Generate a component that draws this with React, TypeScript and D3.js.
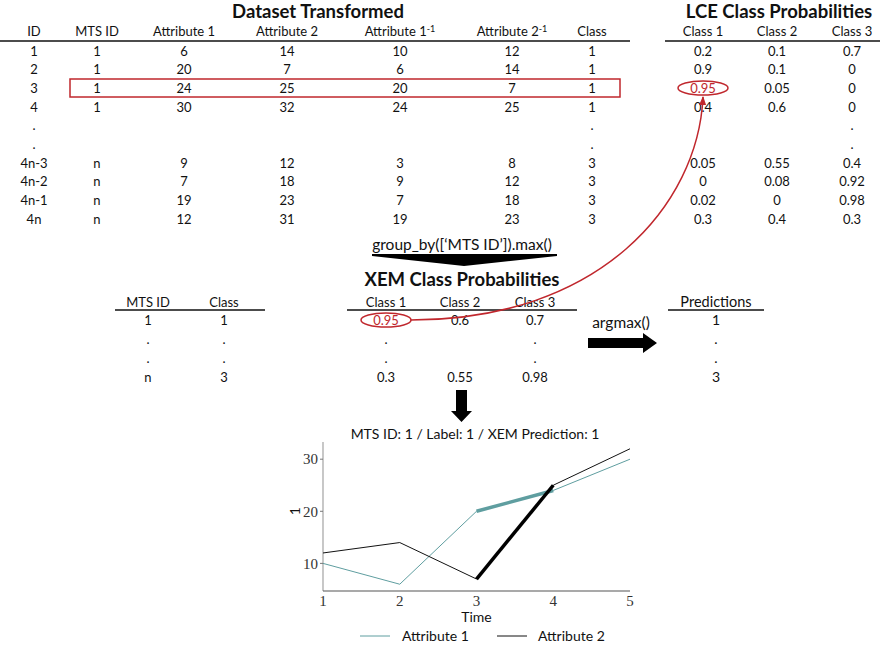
import React from "react";
import * as d3 from "d3";

// ---------- data ----------
const topHeaders = ["ID", "MTS ID", "Attribute 1", "Attribute 2", "Attribute 1", "Attribute 2", "Class"];
const topHeaderSup = ["", "", "", "", "-1", "-1", ""];
const ids = ["1", "2", "3", "4", ".", ".", "4n-3", "4n-2", "4n-1", "4n"];
const mtsIds = ["1", "1", "1", "1", "", "", "n", "n", "n", "n"];
const attribute1 = ["6", "20", "24", "30", "", "", "9", "7", "19", "12"];
const attribute2 = ["14", "7", "25", "32", "", "", "12", "18", "23", "31"];
const attribute1Inv = ["10", "6", "20", "24", "", "", "3", "9", "7", "19"];
const attribute2Inv = ["12", "14", "7", "25", "", "", "8", "12", "18", "23"];
const classes = ["1", "1", "1", "1", ".", ".", "3", "3", "3", "3"];

const lceHeaders = ["Class 1", "Class 2", "Class 3"];
const lceClass1 = ["0.2", "0.9", "0.95", "0.4", "", "", "0.05", "0", "0.02", "0.3"];
const lceClass2 = ["0.1", "0.1", "0.05", "0.6", "", "", "0.55", "0.08", "0", "0.4"];
const lceClass3 = ["0.7", "0", "0", "0", ".", ".", "0.4", "0.92", "0.98", "0.3"];

const gtHeaders = ["MTS ID", "Class"];
const gtMtsId = ["1", ".", ".", "n"];
const gtClass = ["1", ".", ".", "3"];

const xemHeaders = ["Class 1", "Class 2", "Class 3"];
const xemClass1 = ["0.95", ".", ".", "0.3"];
const xemClass2 = ["0.6", "", "", "0.55"];
const xemClass3 = ["0.7", ".", ".", "0.98"];

const predHeader = "Predictions";
const predictions = ["1", ".", ".", "3"];

const time = [1, 2, 3, 4, 5];
const seriesAttr1 = [10, 6, 20, 24, 30];
const seriesAttr2 = [12, 14, 7, 25, 32];
const highlightIdx = [2, 3];
const yTicks = [10, 20, 30];
const chartTitle = "MTS ID: 1 / Label: 1 / XEM Prediction: 1";
const legendLabels = ["Attribute 1", "Attribute 2"];

// ---------- style ----------
const FONT = "Lato, 'Noto Sans', sans-serif";
const SERIF = "'Liberation Serif', 'DejaVu Serif', serif";
const RED = "#c0272d";
const TEAL = "#5f9ea0";
const FS = 13;
const TITLE_FS = 18.5;

function Cell({ x, y, t, fill = "#111", fs = FS }: any) {
  return (
    <text x={x} y={y} dy="0.35em" textAnchor="middle" fontFamily={FONT} fontSize={fs} fill={fill}>
      {t}
    </text>
  );
}

export default function App() {
  const topCols = [34, 97, 184, 287, 400, 512, 592];
  const topRows = d3.scalePoint<number>().domain(d3.range(10)).range([51, 219]);
  const topCols2 = [attribute1, attribute2, attribute1Inv, attribute2Inv];
  const lceCols = [703, 777, 852];
  const lceData = [lceClass1, lceClass2, lceClass3];

  const midRows = d3.scalePoint<number>().domain(d3.range(4)).range([320, 377]);
  const gtCols = [148, 224];
  const xemCols = [386, 460, 535];
  const xemData = [xemClass1, xemClass2, xemClass3];

  const x = d3.scaleLinear().domain([1, 5]).range([323, 630]);
  const y = d3.scaleLinear().domain([4.7, 33.3]).range([591, 442]);
  const line = d3
    .line<number>()
    .x((_, i) => x(time[i]))
    .y((v) => y(v));
  const seg = (arr: number[]) =>
    d3
      .line<number>()
      .x((i) => x(time[i]))
      .y((i) => y(arr[i]))(highlightIdx) as string;

  return (
    <svg width={887} height={649} style={{ position: "absolute", left: 0, top: 0, background: "#fff" }}>
      <defs>
        <marker id="redArrow" viewBox="0 0 10 10" refX="9" refY="5" markerWidth="6" markerHeight="6" orient="auto">
          <path d="M0,1 L10,5 L0,9 z" fill={RED} />
        </marker>
      </defs>

      {/* ---- Dataset Transformed ---- */}
      <text x={318} y={12} dy="0.35em" textAnchor="middle" fontFamily={FONT} fontWeight={700} fontSize={TITLE_FS} fill="#111">
        Dataset Transformed
      </text>
      {topHeaders.map((h, i) => (
        <text key={i} x={topCols[i]} y={31.5} dy="0.35em" textAnchor="middle" fontFamily={FONT} fontSize={FS} fill="#111">
          {h}
          {topHeaderSup[i] && (
            <tspan fontSize={9} dy="-0.5em">
              {topHeaderSup[i]}
            </tspan>
          )}
        </text>
      ))}
      <line x1={0} x2={630} y1={41} y2={41} stroke="#111" strokeWidth={1.3} />
      {ids.map((v, r) => (
        <g key={r}>
          <Cell x={topCols[0]} y={topRows(r)} t={v} />
          <Cell x={topCols[1]} y={topRows(r)} t={mtsIds[r]} />
          {topCols2.map((col, c) => (
            <Cell key={c} x={topCols[2 + c]} y={topRows(r)} t={col[r]} />
          ))}
          <Cell x={topCols[6]} y={topRows(r)} t={classes[r]} />
        </g>
      ))}
      <rect x={70} y={79} width={550} height={18} fill="none" stroke={RED} strokeWidth={1.5} />

      {/* ---- LCE ---- */}
      <text x={779} y={12} dy="0.35em" textAnchor="middle" fontFamily={FONT} fontWeight={700} fontSize={TITLE_FS} fill="#111">
        LCE Class Probabilities
      </text>
      {lceHeaders.map((h, i) => (
        <Cell key={i} x={lceCols[i]} y={31.5} t={h} />
      ))}
      <line x1={665} x2={880} y1={41} y2={41} stroke="#111" strokeWidth={1.3} />
      {lceData.map((col, c) =>
        col.map((v, r) => (
          <Cell key={c + "-" + r} x={lceCols[c]} y={topRows(r)} t={v} fill={c === 0 && r === 2 ? RED : "#111"} />
        ))
      )}
      <ellipse cx={703} cy={88} rx={25} ry={7} fill="none" stroke={RED} strokeWidth={1.5} />

      {/* ---- group_by arrow ---- */}
      <text x={462} y={245} dy="0.35em" textAnchor="middle" fontFamily={FONT} fontSize={15.5} fill="#111">
        group_by([‘MTS ID’]).max()
      </text>
      <path d="M372,254 L557,254 L557,256 L464,266 L372,256 Z" fill="#000" />

      {/* ---- XEM title ---- */}
      <text x={462} y={280} dy="0.35em" textAnchor="middle" fontFamily={FONT} fontWeight={700} fontSize={TITLE_FS} fill="#111">
        XEM Class Probabilities
      </text>

      {gtHeaders.map((h, i) => (
        <Cell key={i} x={gtCols[i]} y={302} t={h} />
      ))}
      <line x1={115} x2={265} y1={310} y2={310} stroke="#111" strokeWidth={1.3} />
      {gtMtsId.map((v, r) => (
        <g key={r}>
          <Cell x={gtCols[0]} y={midRows(r)} t={v} />
          <Cell x={gtCols[1]} y={midRows(r)} t={gtClass[r]} />
        </g>
      ))}

      {xemHeaders.map((h, i) => (
        <Cell key={i} x={xemCols[i]} y={302} t={h} />
      ))}
      <line x1={347} x2={577} y1={310} y2={310} stroke="#111" strokeWidth={1.3} />
      {xemData.map((col, c) =>
        col.map((v, r) => (
          <Cell key={c + "-" + r} x={xemCols[c]} y={midRows(r)} t={v} fill={c === 0 && r === 0 ? RED : "#111"} />
        ))
      )}
      <ellipse cx={386} cy={320} rx={25} ry={7} fill="none" stroke={RED} strokeWidth={1.5} />

      <path d="M411,320 C600,320 698,205 703,97" fill="none" stroke={RED} strokeWidth={1.5} markerEnd="url(#redArrow)" />

      {/* argmax arrow */}
      <text x={621} y={323} dy="0.35em" textAnchor="middle" fontFamily={FONT} fontSize={15.5} fill="#111">
        argmax()
      </text>
      <path d="M588,338 L643,338 L643,333 L657,343 L643,353 L643,348 L588,348 Z" fill="#000" />

      {/* predictions */}
      <Cell x={716} y={302} t={predHeader} fs={14.5} />
      <line x1={668} x2={764} y1={310} y2={310} stroke="#111" strokeWidth={1.3} />
      {predictions.map((v, r) => (
        <Cell key={r} x={716} y={midRows(r)} t={v} fs={14} />
      ))}

      {/* down arrow */}
      <path d="M456,390 L467,390 L467,411 L472,411 L461.5,422 L451,411 L456,411 Z" fill="#000" />

      {/* ---- chart ---- */}
      <text x={475} y={434} dy="0.35em" textAnchor="middle" fontFamily={FONT} fontSize={14} fill="#111">
        {chartTitle}
      </text>
      <line x1={x(1)} x2={x(1)} y1={442} y2={591} stroke="#aaa" strokeWidth={1.3} />
      <line x1={x(1)} x2={x(5)} y1={591} y2={591} stroke="#555" strokeWidth={1.2} />
      {yTicks.map((t) => (
        <g key={t}>
          <line x1={x(1) - 3} x2={x(1)} y1={y(t)} y2={y(t)} stroke="#777" />
          <text x={318} y={y(t)} dy="0.35em" textAnchor="end" fontFamily={SERIF} fontSize={15} fill="#333">
            {t}
          </text>
        </g>
      ))}
      {time.map((t) => (
        <text key={t} x={x(t)} y={601} dy="0.35em" textAnchor="middle" fontFamily={SERIF} fontSize={15} fill="#333">
          {t}
        </text>
      ))}
      <text x={0} y={0} transform={`translate(295,${y(20)}) rotate(-90)`} dy="0.35em" textAnchor="middle" fontFamily={FONT} fontSize={14} fill="#111">
        1
      </text>
      <text x={x(3)} y={617} dy="0.35em" textAnchor="middle" fontFamily={FONT} fontSize={14} fill="#111">
        Time
      </text>
      <path d={line(seriesAttr1) as string} fill="none" stroke={TEAL} strokeWidth={1} />
      <path d={line(seriesAttr2) as string} fill="none" stroke="#111" strokeWidth={1} />
      <path d={seg(seriesAttr1)} fill="none" stroke={TEAL} strokeWidth={3.5} />
      <path d={seg(seriesAttr2)} fill="none" stroke="#000" strokeWidth={3.5} />

      {/* legend */}
      <line x1={360} x2={390} y1={636} y2={636} stroke={TEAL} strokeWidth={1} />
      <text x={402} y={636} dy="0.35em" fontFamily={FONT} fontSize={14} fill="#111">
        {legendLabels[0]}
      </text>
      <line x1={497} x2={527} y1={636} y2={636} stroke="#111" strokeWidth={1} />
      <text x={538} y={636} dy="0.35em" fontFamily={FONT} fontSize={14} fill="#111">
        {legendLabels[1]}
      </text>
    </svg>
  );
}
